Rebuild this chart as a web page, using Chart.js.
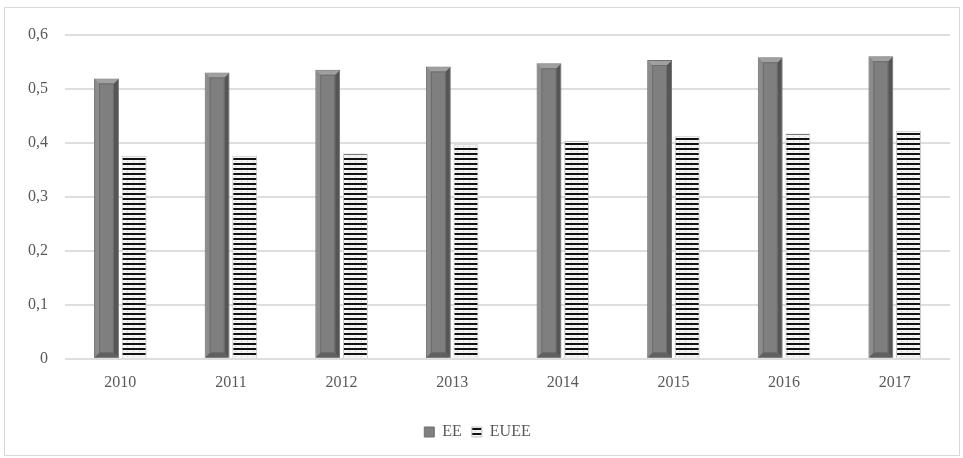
<!DOCTYPE html>
<html>
<head>
<meta charset="utf-8">
<script src="https://cdn.jsdelivr.net/npm/chart.js@4"></script>
<style>
    body { margin: 0; background: #fff; }
    .frame {
        position: absolute; left: 4px; top: 7px;
        width: 956px; height: 449px;
        box-sizing: border-box; border: 1px solid #d9d9d9;
    }
</style>
</head>
<body>
<div class="frame"><canvas id="chart"></canvas></div>
<script>
const years = ["2010", "2011", "2012", "2013", "2014", "2015", "2016", "2017"];
const eeValues = [0.519, 0.530, 0.535, 0.541, 0.547, 0.553, 0.558, 0.560];
const eueeValues = [0.376, 0.376, 0.380, 0.397, 0.403, 0.412, 0.417, 0.422];
const yTicks = [0, 0.1, 0.2, 0.3, 0.4, 0.5, 0.6];

// horizontal stripes for the EUEE bars
function stripePattern() {
    const c = document.createElement("canvas");
    c.width = 6;
    c.height = 5;
    const g = c.getContext("2d");
    g.fillStyle = "#f4f4f4";
    g.fillRect(0, 0, 6, 5);
    g.fillStyle = "#111";
    g.fillRect(0, 0, 6, 2);
    g.fillStyle = "#cfcfcf";
    g.fillRect(2, 3, 1, 1);
    return g.createPattern(c, "repeat");
}

// bevelled look on the EE bars, drawn from the bar elements the library placed
const bevelPlugin = {
    id: "bevel",
    afterDatasetsDraw(chart) {
        const ctx = chart.ctx;
        const meta = chart.getDatasetMeta(0);
        meta.data.forEach(bar => {
            const l = bar.x - bar.width / 2;
            const r = bar.x + bar.width / 2;
            const t = bar.y;
            const b = bar.base;
            const e = 4;
            ctx.save();
            // left face
            ctx.fillStyle = "#8c8c8c";
            ctx.beginPath();
            ctx.moveTo(l + 1, t + 1); ctx.lineTo(l + 1 + e, t + 1 + e);
            ctx.lineTo(l + 1 + e, b - 1 - e); ctx.lineTo(l + 1, b - 1);
            ctx.closePath(); ctx.fill();
            // right face
            ctx.fillStyle = "#555";
            ctx.beginPath();
            ctx.moveTo(r - 1, t + 1); ctx.lineTo(r - 1 - e, t + 1 + e);
            ctx.lineTo(r - 1 - e, b - 1 - e); ctx.lineTo(r - 1, b - 1);
            ctx.closePath(); ctx.fill();
            // top face
            ctx.fillStyle = "#a0a0a0";
            ctx.beginPath();
            ctx.moveTo(l + 1, t + 1); ctx.lineTo(r - 1, t + 1);
            ctx.lineTo(r - 1 - e, t + 1 + e); ctx.lineTo(l + 1 + e, t + 1 + e);
            ctx.closePath(); ctx.fill();
            // bottom face
            ctx.fillStyle = "#606060";
            ctx.beginPath();
            ctx.moveTo(l + 1, b - 1); ctx.lineTo(r - 1, b - 1);
            ctx.lineTo(r - 1 - e, b - 1 - e); ctx.lineTo(l + 1 + e, b - 1 - e);
            ctx.closePath(); ctx.fill();
            // inner edge line
            ctx.strokeStyle = "#6c6c6c";
            ctx.lineWidth = 1;
            ctx.strokeRect(l + 1 + e + 0.5, t + 1 + e + 0.5, r - l - 2 * e - 3, b - t - 2 * e - 3);
            ctx.restore();
        });
    }
};

Chart.defaults.font.family = "'Liberation Serif', 'Times New Roman', serif";
Chart.defaults.font.size = 16;
Chart.defaults.color = "#595959";

new Chart(document.getElementById("chart"), {
    type: "bar",
    data: {
        labels: years,
        datasets: [
            {
                label: "EE",
                data: eeValues,
                backgroundColor: "#7f7f7f",
                borderColor: "#6f6f6f",
                borderWidth: 1,
                categoryPercentage: 0.5,
                barPercentage: 0.9
            },
            {
                label: "EUEE",
                data: eueeValues,
                backgroundColor: stripePattern(),
                borderColor: "#c4c4c4",
                borderWidth: 1,
                categoryPercentage: 0.5,
                barPercentage: 0.9
            }
        ]
    },
    options: {
        responsive: true,
        maintainAspectRatio: false,
        animation: false,
        layout: { padding: { left: 0, right: 9, top: 25, bottom: 5 } },
        scales: {
            x: {
                grid: { display: false },
                border: { display: false },
                ticks: { padding: 6 },
                afterFit: scale => { scale.height = 55; }
            },
            y: {
                min: 0,
                max: 0.6,
                grid: { color: "#dedede", lineWidth: 2, drawTicks: false },
                border: { display: false },
                afterBuildTicks: scale => { scale.ticks = yTicks.map(v => ({ value: v })); },
                ticks: {
                    padding: 17,
                    callback: v => String(Math.round(v * 10) / 10).replace(".", ",")
                },
                afterFit: scale => { scale.width = 60; }
            }
        },
        plugins: {
            legend: {
                position: "bottom",
                labels: { boxWidth: 10, boxHeight: 10, padding: 10 }
            },
            tooltip: { enabled: false }
        }
    },
    plugins: [bevelPlugin]
});
</script>
</body>
</html>
